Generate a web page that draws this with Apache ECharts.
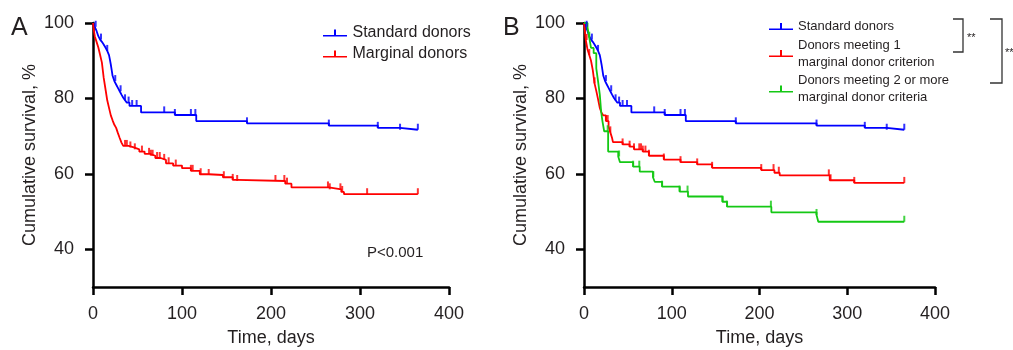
<!DOCTYPE html>
<html>
<head>
<meta charset="utf-8">
<script src="https://cdn.jsdelivr.net/npm/echarts@6/dist/echarts.min.js"></script>
<style>
  html, body { margin: 0; padding: 0; background: #fff; }
  #chart { width: 1013px; height: 350px; }
</style>
</head>
<body>
<div id="chart"></div>
<script>
// Kaplan-Meier curves: time in days, survival in %
const stdTime = [0, 2, 4, 6, 8, 10, 12, 14, 16, 18, 19, 20, 21, 22, 24, 26, 28, 30, 32, 34, 36, 38, 41, 54, 92, 116, 173, 265, 320, 345, 365];
const stdSurv = [100, 99, 97.9, 96.5, 95.6, 95, 94.3, 93.5, 92.6, 91.5, 90.3, 89, 87.5, 86, 84.6, 83.7, 82.8, 81.9, 81, 80.2, 79.5, 78.9, 78, 76.3, 75.6, 74.0, 73.4, 72.8, 72.2, 71.7, 71.7];
const stdCensor = [3, 9, 16, 25, 31, 36, 40, 44, 49, 80, 92, 110, 115, 173, 265, 320, 345, 365];

const margTime = [0, 1, 2, 4, 6, 8, 10, 12, 14, 16, 18, 20, 22, 24, 26, 28, 30, 32, 34, 40, 46, 52, 58, 64, 70, 76, 82, 90, 100, 110, 120, 130, 146, 157, 162, 216, 223, 265, 279, 282, 365];
const margSurv = [100, 98, 96.5, 95, 93.5, 91.5, 89.5, 85.5, 82.5, 79.5, 77.5, 75.5, 74.2, 73, 72.2, 70.8, 69.5, 68.3, 67.4, 67, 66.5, 65.9, 65.3, 64.8, 64.2, 63.7, 62.8, 62.2, 61.5, 60.8, 59.9, 59.7, 59.1, 58.4, 58.1, 57.4, 56.4, 55.9, 55.2, 54.6, 54.6];
const margCensor = [36, 38, 42, 47, 55, 63, 65, 67, 72, 75, 80, 85, 93, 110, 112, 121, 130, 147, 157, 162, 205, 215, 218, 264, 266, 278, 280, 308, 365];

const oneTime = [0, 1, 2, 4, 6, 8, 10, 12, 14, 16, 18, 20, 22, 25, 28, 30, 32, 33, 44, 52, 57, 67, 74, 91, 110, 129, 146, 202, 217, 223, 280, 308, 365];
const oneSurv = [100, 98, 95.5, 93, 91.5, 90, 87.5, 84, 82, 79.8, 77.5, 76.2, 75.5, 74, 72.5, 71, 69.5, 68.4, 67.8, 67.2, 66.5, 65.9, 64.8, 63.8, 63.1, 62.5, 61.6, 61, 60.3, 59.6, 58.3, 57.6, 57.6];
const oneCensor = [3, 6, 12, 25, 27, 30, 44, 52, 57, 63, 65, 67, 70, 74, 91, 110, 129, 146, 202, 216, 222, 279, 281, 308, 365];

const twoTime = [0, 4, 6, 8, 11, 14, 16, 18, 19.5, 21, 23, 27.5, 39, 41, 56, 63.5, 78.6, 80.6, 89, 109, 118.5, 157.7, 163, 213.5, 265, 267, 365];
const twoSurv = [100, 98.8, 96.1, 93.4, 92, 88, 84.6, 81, 76.6, 74, 71.3, 65.9, 64.6, 63.1, 61.9, 60.6, 59.1, 57.9, 56.6, 55.3, 54, 52.6, 51.3, 49.8, 49.1, 47.3, 47.3];
const twoCensor = [6, 27, 40, 56, 63, 79, 89, 109, 118, 158, 163, 213, 265, 365];

const xTickValues = [0, 100, 200, 300, 400];
const yTickValues = [40, 60, 80, 100];

const nameStd = 'Standard donors';
const nameMarg = 'Marginal donors';
const nameOne = 'Donors meeting 1\nmarginal donor criterion';
const nameTwo = 'Donors meeting 2 or more\nmarginal donor criteria';

const BLUE = '#0000ff', RED = '#ff0000', GREEN = '#14c814';
const FONT = '"Liberation Sans", Arial, Helvetica, sans-serif';
const TXT = '#231f20';

const chart = echarts.init(document.getElementById('chart'), null, { renderer: 'canvas' });

function pairs(ts, ss) {
  return ts.map((t, i) => [t, ss[i]]);
}
// survival value in effect at time t (step function lookup)
function survAt(ts, ss, t) {
  let v = ss[0];
  for (let i = 0; i < ts.length; i++) {
    if (ts[i] <= t) v = ss[i];
  }
  return v;
}

function kmLine(name, ts, ss, color, idx) {
  return {
    name: name, type: 'line', step: 'end', xAxisIndex: idx, yAxisIndex: idx,
    data: pairs(ts, ss), showSymbol: false, symbol: 'none',
    color: color, lineStyle: { color: color, width: 1.8 }, itemStyle: { color: color },
    animation: false, silent: true, z: 3
  };
}
function censorMarks(name, ts, ss, cs, color, idx) {
  return {
    name: name + ' censored', type: 'scatter', xAxisIndex: idx, yAxisIndex: idx,
    data: cs.map(t => [t, survAt(ts, ss, t)]),
    symbol: 'rect', symbolSize: [2, 6], symbolOffset: [0, -3],
    itemStyle: { color: color }, animation: false, silent: true, z: 4
  };
}

function xAxis(idx) {
  return {
    gridIndex: idx, type: 'value', min: 0, max: 400, interval: 100,
    name: 'Time, days', nameLocation: 'middle', nameGap: 42,
    nameTextStyle: { fontFamily: FONT, fontSize: 18, color: TXT },
    axisLine: { show: true, onZero: false, lineStyle: { color: '#000', width: 2.5 } },
    axisTick: { show: true, length: 8, lineStyle: { color: '#000', width: 2.5 } },
    axisLabel: { fontFamily: FONT, fontSize: 18, color: TXT, margin: 18 },
    splitLine: { show: false }
  };
}
function yAxis(idx) {
  return {
    gridIndex: idx, type: 'value', min: 30, max: 100,
    name: 'Cumulative survival, %', nameLocation: 'middle', nameGap: 54,
    nameTextStyle: { fontFamily: FONT, fontSize: 18, color: TXT },
    axisLine: { show: true, onZero: false, lineStyle: { color: '#000', width: 2.5 } },
    axisTick: { show: true, length: 8, customValues: yTickValues, lineStyle: { color: '#000', width: 2.5 } },
    axisLabel: { fontFamily: FONT, fontSize: 18, color: TXT, margin: 19, customValues: yTickValues },
    splitLine: { show: false }
  };
}

const legendIcon = 'path://M0,5.5h24v1.5h-24z M11,0h2v5.5h-2z';

const option = {
  backgroundColor: '#fff',
  animation: false,
  grid: [
    { left: 93, top: 23, width: 356, height: 264, containLabel: false, outerBoundsMode: 'none' },
    { left: 584, top: 23, width: 351, height: 264, containLabel: false, outerBoundsMode: 'none' }
  ],
  xAxis: [xAxis(0), xAxis(1)],
  yAxis: [yAxis(0), yAxis(1)],
  legend: [
    {
      data: [nameStd, nameMarg], orient: 'vertical', left: 323, top: 25, padding: 0,
      itemWidth: 25, itemHeight: 7, itemGap: 5, icon: legendIcon,
      textStyle: { fontFamily: FONT, fontSize: 16, color: TXT, lineHeight: 16 },
      selectedMode: false
    },
    {
      data: [nameStd, nameOne, nameTwo], orient: 'vertical', left: 769, top: 18, padding: 0,
      itemWidth: 24, itemHeight: 7, itemGap: 1.5, icon: legendIcon,
      textStyle: { fontFamily: FONT, fontSize: 13, color: TXT, lineHeight: 17 },
      selectedMode: false
    }
  ],
  graphic: [
    { type: 'text', left: 11, top: 16, style: { text: 'A', font: '25px ' + FONT, fill: TXT } },
    { type: 'text', left: 503, top: 16, style: { text: 'B', font: '25px ' + FONT, fill: TXT } },
    { type: 'text', left: 367, top: 245, style: { text: 'P<0.001', font: '15px ' + FONT, fill: TXT } },
    { type: 'polyline', shape: { points: [[953, 19], [963, 19], [963, 52], [953, 52]] },
      style: { stroke: '#333', lineWidth: 1.3, fill: null } },
    { type: 'text', left: 967, top: 32, style: { text: '**', font: '11px ' + FONT, fill: TXT } },
    { type: 'polyline', shape: { points: [[990, 19], [1002, 19], [1002, 83], [990, 83]] },
      style: { stroke: '#333', lineWidth: 1.3, fill: null } },
    { type: 'text', left: 1005, top: 47, style: { text: '**', font: '11px ' + FONT, fill: TXT } }
  ],
  series: [
    kmLine(nameStd, stdTime, stdSurv, BLUE, 0),
    kmLine(nameMarg, margTime, margSurv, RED, 0),
    censorMarks(nameStd, stdTime, stdSurv, stdCensor, BLUE, 0),
    censorMarks(nameMarg, margTime, margSurv, margCensor, RED, 0),
    kmLine(nameStd, stdTime, stdSurv, BLUE, 1),
    kmLine(nameOne, oneTime, oneSurv, RED, 1),
    kmLine(nameTwo, twoTime, twoSurv, GREEN, 1),
    censorMarks(nameStd + ' B', stdTime, stdSurv, stdCensor, BLUE, 1),
    censorMarks(nameOne, oneTime, oneSurv, oneCensor, RED, 1),
    censorMarks(nameTwo, twoTime, twoSurv, twoCensor, GREEN, 1)
  ]
};

chart.setOption(option);
window.addEventListener('resize', () => chart.resize());
</script>
</body>
</html>
